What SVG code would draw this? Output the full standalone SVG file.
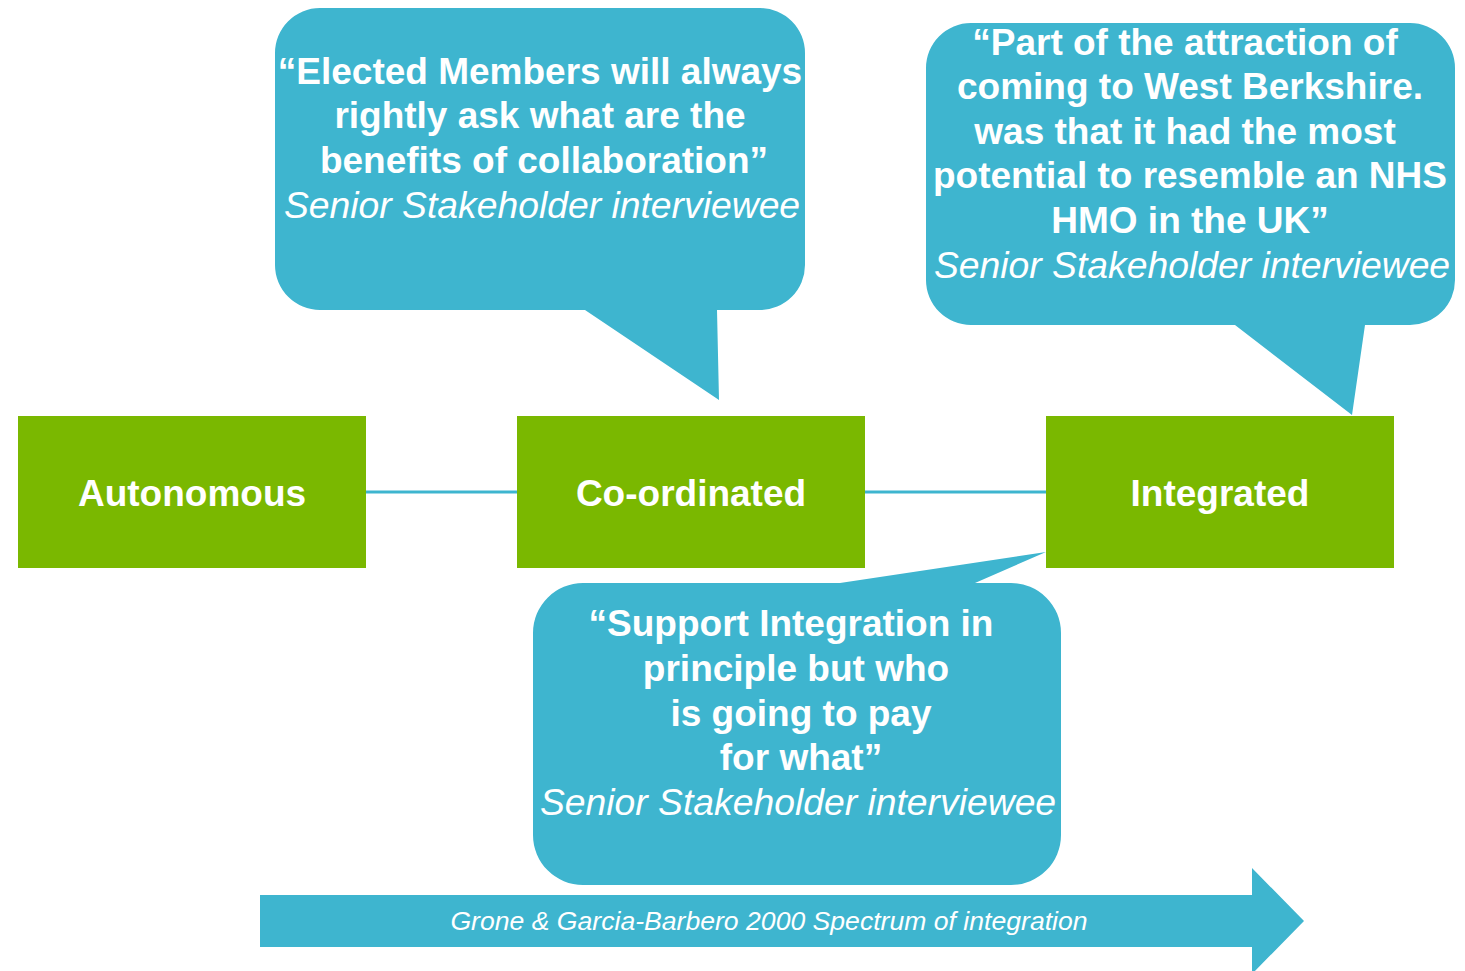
<svg xmlns="http://www.w3.org/2000/svg" width="1465" height="971" viewBox="0 0 1465 971">
<style>
.box{fill:#7AB800}
.bub{fill:#3EB5CF}
.lbl{font-family:"Liberation Sans",Arial,sans-serif;font-weight:bold;font-size:37px;fill:#fff;text-anchor:middle}
.q{font-family:"Liberation Sans",Arial,sans-serif;font-weight:bold;font-size:37px;fill:#fff;text-anchor:middle}
.src{font-family:"Liberation Sans",Arial,sans-serif;font-style:italic;font-size:37.3px;fill:#fff;text-anchor:middle}
.conn{stroke:#3EB5CF;stroke-width:3;fill:none}
</style>
<rect width="1465" height="971" fill="#fff"/>
<g id="connectors">
<line class="conn" x1="366" y1="492" x2="517" y2="492"/>
<line class="conn" x1="865" y1="492" x2="1046" y2="492"/>
</g>
<g id="autonomous">
<rect class="box" x="18" y="416" width="348" height="152"/>
<text class="lbl" x="192" y="506">Autonomous</text>
</g>
<g id="coordinated">
<rect class="box" x="517" y="416" width="348" height="152"/>
<text class="lbl" x="691" y="506">Co-ordinated</text>
</g>
<g id="integrated">
<rect class="box" x="1046" y="416" width="348" height="152"/>
<text class="lbl" x="1220" y="506">Integrated</text>
</g>
<g id="callout1">
<path class="bub" d="M320,8 H760 A45,45 0 0 1 805,53 V265 A45,45 0 0 1 760,310 H717 L719,400 L585,310 H320 A45,45 0 0 1 275,265 V53 A45,45 0 0 1 320,8 Z"/>
<text class="q" x="540" y="84">“Elected Members will always</text>
<text class="q" x="540" y="128">rightly ask what are the</text>
<text class="q" x="544" y="173">benefits of collaboration”</text>
<text class="src" x="542" y="218">Senior Stakeholder interviewee</text>
</g>
<g id="callout2">
<path class="bub" d="M971,23 H1410 A45,45 0 0 1 1455,68 V280 A45,45 0 0 1 1410,325 H1365 L1352,415 L1235,325 H971 A45,45 0 0 1 926,280 V68 A45,45 0 0 1 971,23 Z"/>
<text class="q" x="1185" y="55">“Part of the attraction of</text>
<text class="q" x="1190" y="99">coming to West Berkshire.</text>
<text class="q" x="1185" y="144">was that it had the most</text>
<text class="q" x="1190" y="188">potential to resemble an NHS</text>
<text class="q" x="1190" y="233">HMO in the UK”</text>
<text class="src" x="1192" y="278">Senior Stakeholder interviewee</text>
</g>
<g id="callout3">
<path class="bub" d="M583,583 H840 L1046,552 L975,583 H1011 A50,50 0 0 1 1061,633 V835 A50,50 0 0 1 1011,885 H583 A50,50 0 0 1 533,835 V633 A50,50 0 0 1 583,583 Z"/>
<text class="q" x="791" y="636">“Support Integration in</text>
<text class="q" x="796" y="681">principle but who</text>
<text class="q" x="801" y="726">is going to pay</text>
<text class="q" x="801" y="770">for what”</text>
<text class="src" x="798" y="815">Senior Stakeholder interviewee</text>
</g>
<g id="spectrum-arrow">
<path class="bub" d="M260,895 H1252 V868 L1304,921 L1252,974 V947 H260 Z"/>
<text x="769" y="930" style="font-family:'Liberation Sans',Arial,sans-serif;font-style:italic;font-size:26.6px;fill:#fff;text-anchor:middle">Grone &amp; Garcia-Barbero 2000 Spectrum of integration</text>
</g>
</svg>
